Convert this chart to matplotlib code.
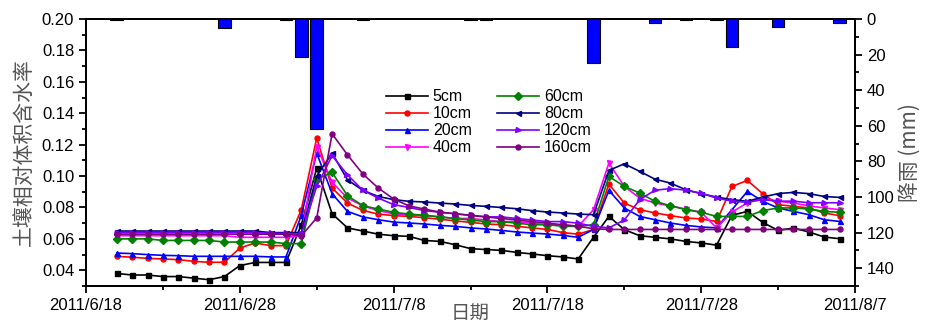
import matplotlib
matplotlib.use("Agg")
from matplotlib import pyplot as plt
from matplotlib import dates as mdates
from matplotlib.ticker import MultipleLocator, FuncFormatter
import numpy as np
import pandas as pd

plt.rcParams['font.family'] = ['Liberation Sans', 'Noto Sans CJK SC', 'DejaVu Sans']

# daily soil moisture, 2011/6/20 .. 2011/8/6
days = pd.date_range('2011-06-20', '2011-08-06', freq='D')

m5 = [0.038, 0.037, 0.037, 0.036, 0.036, 0.035, 0.034, 0.036, 0.043, 0.045, 0.045, 0.045,
      0.069, 0.105, 0.076, 0.067, 0.065, 0.063, 0.062,
      0.0616, 0.059, 0.0584, 0.0563, 0.0538, 0.0532, 0.0527, 0.0514, 0.0504, 0.0493, 0.0485, 0.0472,
      0.061, 0.0743, 0.0659, 0.062, 0.061, 0.060, 0.0584, 0.0574, 0.056, 0.075, 0.0775, 0.0705,
      0.0654, 0.0669, 0.0644, 0.0612, 0.0601]
m10 = [0.0489, 0.0483, 0.0476, 0.0472, 0.0468, 0.0457, 0.0451, 0.0451, 0.0542, 0.0574, 0.0557, 0.0557,
       0.0786, 0.1242, 0.0924, 0.0828, 0.0781, 0.0758, 0.0748,
       0.0743, 0.0735, 0.0725, 0.0715, 0.0705, 0.0695, 0.069, 0.068, 0.067, 0.066, 0.064, 0.063,
       0.066, 0.0949, 0.0828, 0.0786, 0.0765, 0.0748, 0.0733, 0.0727, 0.0711, 0.0934, 0.0972, 0.0888,
       0.0818, 0.0807, 0.0797, 0.0765, 0.0748]
m20 = [0.0510, 0.0506, 0.050, 0.0495, 0.0493, 0.0489, 0.0489, 0.0489, 0.0489, 0.0489, 0.0485, 0.0485,
       0.075, 0.1146, 0.0888, 0.0775, 0.074, 0.0722, 0.0707,
       0.0701, 0.0695, 0.0686, 0.068, 0.067, 0.0663, 0.0654, 0.0644, 0.0637, 0.0631, 0.0622, 0.061,
       0.066, 0.0909, 0.0797, 0.0743, 0.0722, 0.0701, 0.0686, 0.0676, 0.067, 0.0786, 0.0902, 0.0839,
       0.0797, 0.0775, 0.0754, 0.0722, 0.0711]
m40 = [0.062, 0.062, 0.062, 0.062, 0.062, 0.062, 0.062, 0.062, 0.061, 0.061, 0.061, 0.061,
       0.062, 0.1188, 0.096, 0.086, 0.081, 0.078, 0.076,
       0.075, 0.075, 0.074, 0.073, 0.073, 0.072, 0.071, 0.071, 0.070, 0.069, 0.069, 0.068,
       0.0786, 0.1083, 0.0934, 0.086, 0.0828, 0.081, 0.079, 0.077, 0.067, 0.077, 0.083, 0.086,
       0.084, 0.0828, 0.081, 0.0797, 0.0786]
m60 = [0.060, 0.060, 0.060, 0.059, 0.059, 0.059, 0.059, 0.058, 0.058, 0.058, 0.058, 0.057,
       0.057, 0.098, 0.1023, 0.0875, 0.0811, 0.079, 0.0769,
       0.0758, 0.075, 0.074, 0.073, 0.072, 0.071, 0.071, 0.070, 0.069, 0.069, 0.068, 0.068,
       0.069, 0.0998, 0.0934, 0.0892, 0.0839, 0.0811, 0.0786, 0.0769, 0.0743, 0.0743, 0.0743, 0.078,
       0.0797, 0.0797, 0.079, 0.0775, 0.0769]
m80 = [0.065, 0.065, 0.065, 0.065, 0.065, 0.065, 0.065, 0.065, 0.065, 0.065, 0.064, 0.064,
       0.064, 0.100, 0.1146, 0.0976, 0.0909, 0.087, 0.085,
       0.0839, 0.0835, 0.0828, 0.0822, 0.0813, 0.0807, 0.080, 0.0792, 0.078, 0.0771, 0.0765, 0.0758,
       0.0754, 0.1036, 0.1078, 0.103, 0.098, 0.0955, 0.0913, 0.0888, 0.0866, 0.085, 0.0839, 0.0866,
       0.0888, 0.0896, 0.0888, 0.087, 0.0864]
m120 = [0.064, 0.064, 0.064, 0.064, 0.064, 0.064, 0.064, 0.064, 0.064, 0.064, 0.0635, 0.0635,
        0.063, 0.0934, 0.113, 0.1008, 0.0909, 0.086, 0.0818,
        0.080, 0.078, 0.077, 0.076, 0.075, 0.074, 0.074, 0.073, 0.072, 0.071, 0.071, 0.070,
        0.068, 0.067, 0.072, 0.085, 0.091, 0.092, 0.091, 0.089, 0.086, 0.084, 0.0833, 0.085,
        0.084, 0.084, 0.083, 0.083, 0.083]
m160 = [0.063, 0.063, 0.063, 0.063, 0.063, 0.063, 0.063, 0.063, 0.063, 0.063, 0.063, 0.063,
        0.062, 0.0733, 0.1269, 0.1135, 0.1013, 0.0924, 0.0854,
        0.081, 0.079, 0.077, 0.076, 0.075, 0.074, 0.073, 0.072, 0.071, 0.070, 0.069, 0.068,
        0.0665, 0.066, 0.066, 0.066, 0.066, 0.066, 0.066, 0.066, 0.066, 0.066, 0.066, 0.066,
        0.066, 0.066, 0.066, 0.066, 0.066]

depth_labels = ['5cm', '10cm', '20cm', '40cm', '60cm', '80cm', '120cm', '160cm']

# rainfall (mm)
rain_days = pd.to_datetime(['2011-06-20', '2011-06-27', '2011-07-01', '2011-07-02', '2011-07-03',
                            '2011-07-06', '2011-07-13', '2011-07-14', '2011-07-21', '2011-07-25',
                            '2011-07-27', '2011-07-29', '2011-07-30', '2011-08-02', '2011-08-06'])
rain = [0.5, 5.2, 0.4, 21.5, 62, 0.5, 0.4, 0.4, 24.5, 2.4, 0.5, 0.4, 16, 4.7, 2.4]

series = [m5, m10, m20, m40, m60, m80, m120, m160]
colors = ['black', 'red', 'blue', '#FF00FF', '#008000', '#000080', '#8000FF', '#800080']
markers = ['s', 'o', '^', 'v', 'D', '<', '>', 'o']

fig = plt.figure(figsize=(9.26, 3.27), dpi=100)
ax = fig.add_axes([0.0929, 0.1254, 0.8304, 0.8165])

for vals, lab, c, mk in zip(series, depth_labels, colors, markers):
    ax.plot(days, vals, color=c, marker=mk, markersize=3.6, lw=1.2, label=lab)

ax.set_xlim(pd.Timestamp('2011-06-18'), pd.Timestamp('2011-08-07'))
ax.set_ylim(0.03, 0.20)
ax.yaxis.set_major_locator(MultipleLocator(0.02))
ax.yaxis.set_minor_locator(MultipleLocator(0.01))
ax.yaxis.set_major_formatter(FuncFormatter(lambda v, p: '%.2f' % v))

start = mdates.date2num(pd.Timestamp('2011-06-18'))
ax.xaxis.set_major_locator(plt.FixedLocator([start + 10 * i for i in range(6)]))
ax.xaxis.set_minor_locator(plt.FixedLocator([start + 5 * i for i in range(11)]))


def fmt_date(v, p):
    d = mdates.num2date(v)
    return '%d/%d/%d' % (d.year, d.month, d.day)


ax.xaxis.set_major_formatter(FuncFormatter(fmt_date))

ax.tick_params(which='both', direction='out', width=1.3, labelsize=12)
ax.tick_params(which='major', length=5)
ax.tick_params(which='minor', length=3)
for s in ax.spines.values():
    s.set_linewidth(1.4)

ax.set_ylabel('土壤相对体积含水率', fontsize=15, family=['Noto Sans CJK SC'], color='#555555', labelpad=4)
ax.set_xlabel('日期', fontsize=14, family=['Noto Sans CJK SC'], color='#555555', labelpad=-7)

ax.legend(ncol=2, loc='upper left', bbox_to_anchor=(0.372, 0.79), frameon=False, fontsize=11.5,
          handlelength=2.6, columnspacing=1.6, labelspacing=0.12, handletextpad=0.3)

ax2 = ax.twinx()
ax2.bar(rain_days, rain, width=0.82, color='#0000FF', edgecolor='black', linewidth=0.8)
ax2.set_ylim(150, 0)
ax2.yaxis.set_major_locator(MultipleLocator(20))
ax2.yaxis.set_minor_locator(MultipleLocator(10))
ax2.tick_params(which='both', direction='out', width=1.3, labelsize=12)
ax2.tick_params(which='major', length=5)
ax2.tick_params(which='minor', length=3)
ax2.set_ylabel('降雨 (mm)', fontsize=15, family=['Noto Sans CJK SC', 'DejaVu Sans'], color='#555555',
               labelpad=4)
for s in ax2.spines.values():
    s.set_linewidth(1.4)

fig.savefig('out.png', dpi=100)
